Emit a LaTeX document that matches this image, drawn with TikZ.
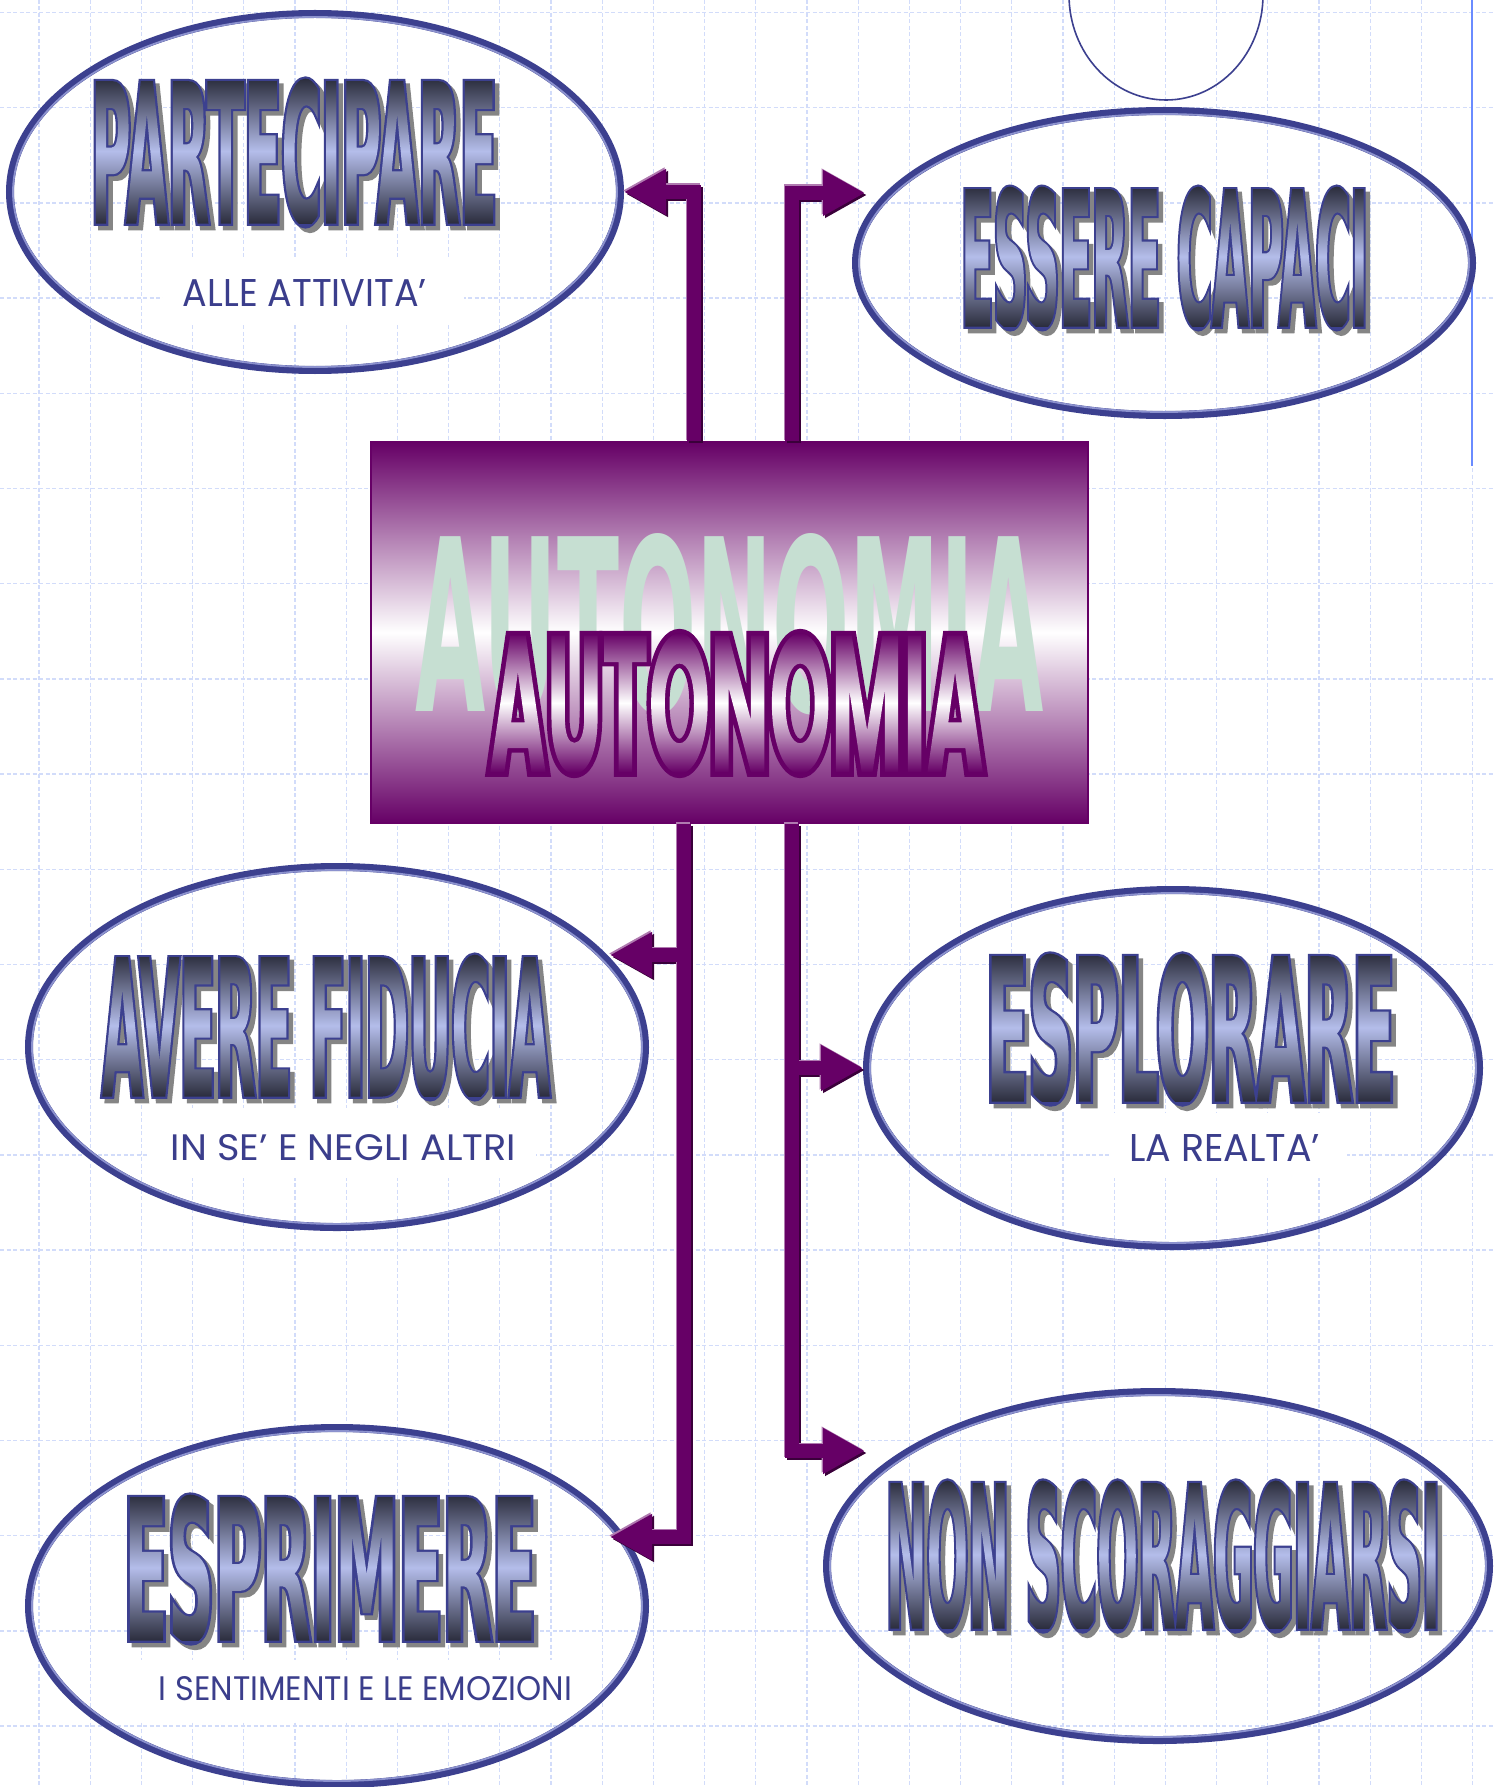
\documentclass[tikz,border=0pt]{standalone}
\usepackage{fontspec}
\usepackage{graphicx}
\usetikzlibrary{shapes.geometric,arrows.meta,calc}
\newfontfamily\wafont{DejaVu Sans}[FakeStretch=0.27]
\newfontfamily\ghostfont{DejaVu Sans}
\newfontfamily\aufont{Poppins}[FakeStretch=0.38]
\newfontfamily\subfont{Poppins}[FakeStretch=0.8]
\definecolor{navy}{HTML}{3C408F}
\definecolor{navydark}{HTML}{2B2D3D}
\definecolor{navylight}{HTML}{8C92CE}
\definecolor{lav}{HTML}{B4BDEA}
\definecolor{purp}{HTML}{660066}
\definecolor{purpdark}{HTML}{3A003A}
\definecolor{purplight}{HTML}{B07AB0}
\definecolor{gridc}{HTML}{D2DCFA}
\definecolor{ghost}{HTML}{C6DFD2}
\definecolor{subc}{HTML}{3B3E8C}
\definecolor{wshadow}{HTML}{858585}
\definecolor{edgeline}{HTML}{6A8BFF}

% text drawn once: stroked outline (colour #5) + used as clip for a vertical gradient
\newsavebox\tbox
\newcommand\cliptext[6]{%
 \sbox\tbox{\color{#5}#3}%
 \resizebox{#1pt}{#2pt}{%
  \special{pdf:bcontent}%
  \special{pdf:literal direct 5 Tr #4 w}%
  \usebox\tbox
  \special{pdf:literal direct 0 Tr}%
  \llap{\tikz\shade[#6] (0pt,0pt) rectangle (\the\wd\tbox,\the\ht\tbox);}%
  \special{pdf:econtent}}%
}
% same glyphs, filled and stroked in grey: the drop shadow
\newcommand\shadowtext[3]{%
 \resizebox{#1pt}{#2pt}{%
  \special{pdf:bcontent}%
  \special{pdf:literal direct 2 Tr 4.5 w}%
  {\color{wshadow}\wafont\fontsize{199}{199}\selectfont\bfseries #3}%
  \special{pdf:literal direct 0 Tr}%
  \special{pdf:econtent}}%
}
\newcommand\wa[3]{\cliptext{#1}{#2}{\wafont\fontsize{199}{199}\selectfont\bfseries #3}{4.5}{navy}{top color=navydark,bottom color=navydark,middle color=lav}}
\newcommand\subtxt[3]{\resizebox{#1pt}{#2pt}{\subfont\fontsize{38}{38}\selectfont #3}}

\begin{document}
\begin{tikzpicture}[x=1pt,y=-1pt,
  bubble/.style={ellipse, draw=navy, line width=8pt, inner sep=0pt},
  title/.style={inner sep=0pt},
  subt/.style={text=subc, inner sep=0pt},
  gridl/.style={draw=gridc, line width=1.3pt, dash pattern=on 4pt off 2.5pt},
  conn/.style={line width=14pt, line join=miter, -{Triangle[length=42pt,width=43pt]}},
  connmain/.style={conn, draw=purp},
  connshadow/.style={conn, draw=purpdark, transform canvas={shift={(2pt,-2pt)}}},
  connhl/.style={conn, draw=purplight, transform canvas={shift={(-1.5pt,1.5pt)}}},
]
\useasboundingbox (0,0) rectangle (1494,1787);
\fill[white] (0,0) rectangle (1494,1787);
% background grid
\foreach \k in {0,...,28} \draw[gridl] (39+51.2*\k,0) -- (39+51.2*\k,1787);
\foreach \k in {0,...,18} \draw[gridl] (0,12.5+95.2*\k) -- (1494,12.5+95.2*\k);
% white frames of the subtitles
\fill[white] (163,258) rectangle (464,323);
\fill[white] (147,1108) rectangle (536,1178);
\fill[white] (1109,1113) rectangle (1347,1178);
\fill[white] (140,1660) rectangle (590,1722);
% right edge line and top partial oval
\draw[edgeline, line width=2.5pt] (1472,0) -- (1472,466);
\node[ellipse, draw=navy, line width=1.6pt, minimum width=194pt, minimum height=210pt, inner sep=0pt] (topov) at (1166,-5) {};

% ovals
\node[bubble, minimum width=610pt, minimum height=356pt] (part) at (315,192) {};
\node[bubble, minimum width=616pt, minimum height=304pt] (ess) at (1164,263) {};
\node[bubble, minimum width=616pt, minimum height=360pt] (fid) at (337,1047) {};
\node[bubble, minimum width=612pt, minimum height=356pt] (expl) at (1173,1068) {};
\node[bubble, minimum width=616pt, minimum height=356pt] (espr) at (337,1606) {};
\node[bubble, minimum width=662pt, minimum height=348pt] (nons) at (1158,1566) {};
\foreach \n/\rx/\ry in {part/302/175, ess/305/149, fid/305/177, expl/303/175, espr/305/175, nons/328/171}
  \draw[navylight, line width=1.8pt] (\n.center) ellipse [x radius=\rx, y radius=\ry];

% word art titles: grey drop shadow, then outlined gradient lettering
\node[title] (hPart) at (298.5,157) {\shadowtext{406}{145}{PARTECIPARE}};
\node[title] (hEss) at (1169,262.5) {\shadowtext{407}{140}{ESSERE CAPACI}};
\node[title] (hFid) at (330.5,1031.5) {\shadowtext{448}{142}{AVERE FIDUCIA}};
\node[title] (hExpl) at (1195,1033.5) {\shadowtext{409}{148}{ESPLORARE}};
\node[title] (hEspr) at (334.5,1573.5) {\shadowtext{412}{146}{ESPRIMERE}};
\node[title] (hNons) at (1167.5,1560.5) {\shadowtext{554}{148}{NON SCORAGGIARSI}};
\node[title] (tPart) at (294,152.5) {\wa{406}{145}{PARTECIPARE}};
\node[title] (tEssT) at (1164.5,258) {\wa{407}{140}{ESSERE CAPACI}};
\node[title] (tFidT) at (326,1027) {\wa{448}{142}{AVERE FIDUCIA}};
\node[title] (tExplT) at (1190.5,1029) {\wa{409}{148}{ESPLORARE}};
\node[title] (tEsprT) at (330,1569) {\wa{412}{146}{ESPRIMERE}};
\node[title] (tNonsT) at (1163,1556) {\wa{554}{148}{NON SCORAGGIARSI}};

% subtitles
\node[subt] (s1) at (305,292.5) {\subtxt{244}{27}{ALLE ATTIVITA’}};
\node[subt] (s2) at (343.5,1148) {\subtxt{345}{26}{IN SE’ E NEGLI ALTRI}};
\node[subt] (s3) at (1224.5,1147.5) {\subtxt{191}{27}{LA REALTA’}};
\node[subt] (s4) at (365.5,1689) {\subtxt{413}{24}{I SENTIMENTI E LE EMOZIONI}};

% central box
\node[draw=purp, line width=1.5pt, top color=purp, bottom color=purp, middle color=white,
      minimum width=717pt, minimum height=381pt, inner sep=0pt] (auto) at (729.5,632.5) {};
\node[text=ghost, inner sep=0pt] (ghost) at (730,624) {\resizebox{628pt}{178pt}{\ghostfont\bfseries AUTONOMIA}};
\node[title] (autoT) at (736.5,703.5) {\cliptext{495}{139}{\aufont\fontsize{199}{199}\selectfont\bfseries AUTONOMIA}{9}{purp}{top color=purp,bottom color=purp,middle color=white}};

% connectors
\coordinate (tEss) at (865,193);
\coordinate (tFid) at (610,955);
\coordinate (tEspr) at (610,1537);
\coordinate (tNons) at (865,1451);
\foreach \st in {connshadow,connhl,connmain}{
  \draw[\st] ([xshift=-35.5pt]auto.north) |- (part.east);
  \draw[\st] ([xshift=62.5pt]auto.north) |- (tEss);
  \draw[\st] ([xshift=-45.5pt]auto.south) |- (tFid);
  \draw[\st] ([xshift=-45.5pt]auto.south) |- (tEspr);
  \draw[\st] ([xshift=62.5pt]auto.south) |- (expl.west);
  \draw[\st] ([xshift=62.5pt]auto.south) |- (tNons);
}
\end{tikzpicture}
\end{document}
